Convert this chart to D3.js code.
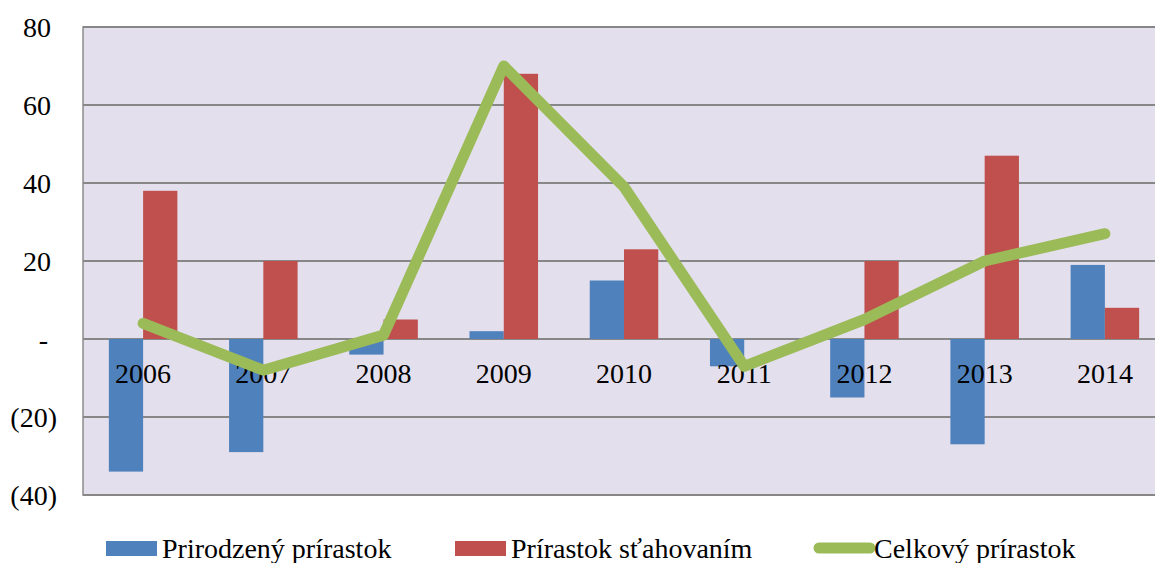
<!DOCTYPE html>
<html>
<head>
<meta charset="utf-8">
<script src="https://cdn.jsdelivr.net/npm/d3@7"></script>
<style>
  body { margin: 0; background: #fff; }
  svg { display: block; font-family: "Liberation Serif", "Times New Roman", serif; }
</style>
</head>
<body>
<svg id="chart" width="1155" height="563"></svg>
<script>
// data
const years = ['2006', '2007', '2008', '2009', '2010', '2011', '2012', '2013', '2014'];
const natural = [-34, -29, -4, 2, 15, -7, -15, -27, 19];
const migration = [38, 20, 5, 68, 23, 0, 20, 47, 8];
const total = [4, -8, 1, 70, 39, -7, 5, 20, 27];
const yTicks = [80, 60, 40, 20, 0, -20, -40];
const seriesNames = ['Prirodzený prírastok', 'Prírastok sťahovaním', 'Celkový prírastok'];

const colors = { natural: '#4F81BD', migration: '#C0504D', total: '#9BBB59' };

const svg = d3.select('#chart');
const plot = { left: 83, right: 1165, top: 27, bottom: 495 };

const x = d3.scaleBand().domain(years).range([plot.left, plot.right]).paddingInner(0.43).paddingOuter(0.215);
const y = d3.scaleLinear().domain([-40, 80]).range([plot.bottom, plot.top]);

svg.append('rect')
    .attr('x', plot.left).attr('y', plot.top)
    .attr('width', plot.right - plot.left).attr('height', plot.bottom - plot.top)
    .attr('fill', '#E4DFEC')
    .attr('stroke', '#8C8C8C').attr('stroke-width', 1.5);

// gridlines
svg.append('g').selectAll('line')
    .data(yTicks)
    .enter()
    .append('line')
    .attr('x1', plot.left).attr('x2', plot.right)
    .attr('y1', d => y(d)).attr('y2', d => y(d))
    .attr('stroke', '#878787').attr('stroke-width', 2);

// y labels (accounting style)
const fmt = d => d === 0 ? '-' : d < 0 ? `(${-d})` : `${d}`;
svg.append('g').selectAll('text')
    .data(yTicks)
    .enter()
    .append('text')
    .attr('x', d => d === 0 ? 48 : d < 0 ? 57 : 51)
    .attr('y', d => y(d) + 10)
    .attr('text-anchor', 'end')
    .attr('font-size', 28)
    .text(fmt);

const half = x.bandwidth() / 2;

// bars
const bars = svg.append('g');
bars.selectAll('rect.nat')
    .data(natural)
    .enter()
    .append('rect')
    .attr('class', 'nat')
    .attr('x', (d, i) => x(years[i]))
    .attr('width', half)
    .attr('y', d => y(Math.max(0, d)))
    .attr('height', d => Math.abs(y(d) - y(0)))
    .attr('fill', colors.natural);
bars.selectAll('rect.mig')
    .data(migration)
    .enter()
    .append('rect')
    .attr('class', 'mig')
    .attr('x', (d, i) => x(years[i]) + half)
    .attr('width', half)
    .attr('y', d => y(Math.max(0, d)))
    .attr('height', d => Math.abs(y(d) - y(0)))
    .attr('fill', colors.migration);

// category labels sit just under the zero line
svg.append('g').selectAll('text')
    .data(years)
    .enter()
    .append('text')
    .attr('x', d => x(d) + half)
    .attr('y', y(0) + 44)
    .attr('text-anchor', 'middle')
    .attr('font-size', 28)
    .text(d => d);

// total line
const line = d3.line()
    .x((d, i) => x(years[i]) + half)
    .y(d => y(d));
svg.append('path')
    .datum(total)
    .attr('d', line)
    .attr('fill', 'none')
    .attr('stroke', colors.total)
    .attr('stroke-width', 11)
    .attr('stroke-linecap', 'round')
    .attr('stroke-linejoin', 'round');

// legend
const legend = svg.append('g').attr('font-size', 28);
const legendX = [106, 455, 814];
const legendColors = [colors.natural, colors.migration, colors.total];
seriesNames.forEach((name, i) => {
    if (i < 2) {
        legend.append('rect')
            .attr('x', legendX[i]).attr('y', 541)
            .attr('width', 51).attr('height', 15)
            .attr('fill', legendColors[i]);
    } else {
        legend.append('line')
            .attr('x1', legendX[i] + 5).attr('x2', legendX[i] + 56)
            .attr('y1', 548).attr('y2', 548)
            .attr('stroke', legendColors[i])
            .attr('stroke-width', 11)
            .attr('stroke-linecap', 'round');
    }
    legend.append('text')
        .attr('x', legendX[i] + (i < 2 ? 56 : 60))
        .attr('y', 558)
        .text(name);
});
</script>
</body>
</html>
